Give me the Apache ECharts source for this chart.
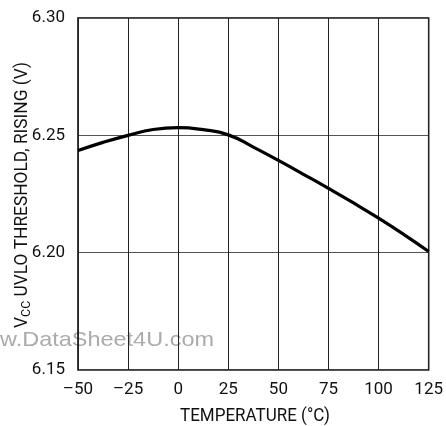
<!DOCTYPE html>
<html>
<head>
<meta charset="utf-8">
<script src="https://cdn.jsdelivr.net/npm/echarts@6/dist/echarts.min.js"></script>
<style>
html,body{margin:0;padding:0;background:#fff;}
#c{width:446px;height:426px;}
</style>
</head>
<body>
<div id="c"></div>
<script>
const temperatures = [-50, -37.5, -25, -12.5, 0, 12.5, 25, 37.5, 50, 62.5, 75, 87.5, 100, 112.5, 125];
const thresholdRising = [6.2435, 6.2470, 6.2500, 6.2525, 6.2533, 6.2524, 6.2502, 6.2450, 6.2393, 6.2334, 6.2274, 6.2212, 6.2147, 6.2078, 6.2005];
const xTicks = [-50, -25, 0, 25, 50, 75, 100, 125];
const yTicks = [6.15, 6.20, 6.25, 6.30];
const xTitle = 'TEMPERATURE (°C)';
const yTitleParts = ['V', 'CC', ' UVLO THRESHOLD, RISING (V)'];
const watermark = 'w.DataSheet4U.com';

const FONT = "Roboto, 'Liberation Sans', sans-serif";
const WFONT = "'Liberation Sans', sans-serif";
const ctx = document.createElement('canvas').getContext('2d');
function tw(text, size, fam) { ctx.font = size + 'px ' + fam; return ctx.measureText(text).width; }

const yNatural = tw(yTitleParts[0], 18, FONT) + tw(yTitleParts[1], 13, FONT) + tw(yTitleParts[2], 18, FONT);
const yScale = 266 / yNatural;
const xScale = 150 / tw(xTitle, 18, FONT);
const wScale = 214 / tw(watermark, 21, WFONT);

const chart = echarts.init(document.getElementById('c'), null, {renderer: 'canvas'});
chart.setOption({
  animation: false,
  backgroundColor: '#fff',
  grid: {left: 78, right: 17, top: 18, bottom: 56, show: true, borderColor: '#000', borderWidth: 1.5, containLabel: false, z: 2},
  xAxis: {
    type: 'value', min: xTicks[0], max: xTicks[xTicks.length-1], interval: 25,
    axisLine: {show: false}, axisTick: {show: false}, z: 2,
    splitLine: {show: true, lineStyle: {color: '#222', width: 1}},
    axisLabel: {color: '#111', fontFamily: FONT, fontSize: 17, margin: 11,
      formatter: v => v < 0 ? '\u2013' + Math.abs(v) : String(v)}
  },
  yAxis: {
    type: 'value', min: yTicks[0], max: yTicks[yTicks.length-1], interval: 0.05,
    axisLine: {show: false}, axisTick: {show: false}, z: 2,
    splitLine: {show: true, lineStyle: {color: '#555', width: 1}},
    axisLabel: {color: '#111', fontFamily: FONT, fontSize: 17, margin: 13,
      formatter: v => v.toFixed(2)}
  },
  graphic: [
    {type: 'text', x: 22.5, y: 195, rotation: Math.PI/2, scaleX: yScale, z: 10,
      style: {text: '{m|' + yTitleParts[0] + '}{s|' + yTitleParts[1] + '}{m|' + yTitleParts[2] + '}', align: 'center', verticalAlign: 'middle',
        rich: {m: {fontFamily: FONT, fontSize: 18, fill: '#111'},
               s: {fontFamily: FONT, fontSize: 13, fill: '#111', padding: [8, 0, 0, 0]}}}},
    {type: 'text', x: 255, y: 416, scaleX: xScale, z: 10,
      style: {text: xTitle, fontFamily: FONT, fontSize: 18, fill: '#111', align: 'center', verticalAlign: 'middle'}},
    {type: 'text', x: 0, y: 340, scaleX: wScale, z: 0, zlevel: 0,
      style: {text: watermark, fontFamily: WFONT, fontSize: 21, fill: '#ababab', align: 'left', verticalAlign: 'middle'}}
  ],
  series: [{
    type: 'line', data: temperatures.map((t, i) => [t, thresholdRising[i]]), z: 5,
    smooth: true, showSymbol: false, lineStyle: {color: '#000', width: 3.2}
  }]
});
</script>
</body>
</html>
